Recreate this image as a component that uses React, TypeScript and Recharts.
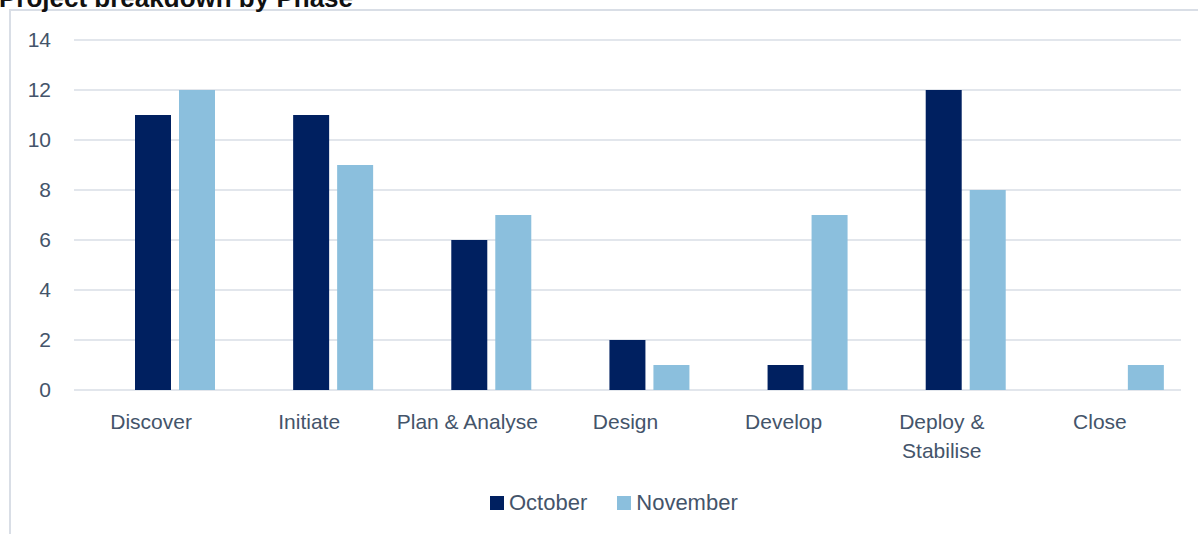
import { Bar, BarChart, CartesianGrid, XAxis, YAxis } from "recharts";

const phases = [
  "Discover",
  "Initiate",
  "Plan & Analyse",
  "Design",
  "Develop",
  "Deploy & Stabilise",
  "Close",
];
const october = [11, 11, 6, 2, 1, 12, 0];
const november = [12, 9, 7, 1, 7, 8, 1];
const yTicks = [0, 2, 4, 6, 8, 10, 12, 14];

const series = [
  { key: "october", name: "October", color: "#002060" },
  { key: "november", name: "November", color: "#8BBFDD" },
];

const rows = phases.map((phase, i) => ({
  phase,
  october: october[i],
  november: november[i],
}));

const FONT = "'Liberation Sans', Arial, sans-serif";
const TEXT = "#44546A";
const GRID = "#D9DEE6";

// greedy word wrap, same as Excel gives for these labels
function wrapLabel(label: string, maxChars = 14) {
  const lines: string[] = [];
  let cur = "";
  for (const w of label.split(" ")) {
    const next = cur ? cur + " " + w : w;
    if (next.length > maxChars && cur) {
      lines.push(cur);
      cur = w;
    } else {
      cur = next;
    }
  }
  if (cur) lines.push(cur);
  return lines;
}

function PhaseTick(props: any) {
  const { x, y, payload } = props;
  const lines = wrapLabel(String(payload.value));
  return (
    <text
      x={x - 24}
      y={y + 15}
      textAnchor="middle"
      fill={TEXT}
      fontSize={21}
      fontFamily={FONT}
    >
      {lines.map((line, i) => (
        <tspan key={i} x={x - 24} dy={i === 0 ? 0 : 29}>
          {line}
        </tspan>
      ))}
    </text>
  );
}

export default function App() {
  return (
    <div
      style={{
        position: "absolute",
        left: 0,
        top: 0,
        width: 1198,
        height: 534,
        overflow: "hidden",
        background: "#fff",
        fontFamily: FONT,
      }}
    >
      <div
        style={{
          position: "absolute",
          left: 9,
          top: 9,
          width: 1250,
          height: 600,
          borderTop: `2px solid ${GRID}`,
          borderLeft: `2px solid ${GRID}`,
        }}
      />
      <svg
        width={1198}
        height={20}
        style={{ position: "absolute", left: 0, top: 0 }}
      >
        <text x={-1} y={7} fontSize={26} fontWeight="bold" fill="#111" fontFamily={FONT}>
          Project breakdown by Phase
        </text>
      </svg>
      <div style={{ position: "absolute", left: 0, top: 0 }}>
        <BarChart
          width={1198}
          height={534}
          data={rows}
          margin={{ top: 40, right: 17, left: 0, bottom: 84 }}
          barSize={36}
          barGap={8}
        >
          <CartesianGrid vertical={false} stroke={GRID} strokeWidth={1.5} />
          <XAxis
            dataKey="phase"
            axisLine={false}
            tickLine={false}
            tickSize={0}
            tickMargin={24}
            height={60}
            interval={0}
            padding={{ left: 22, right: -22 }}
            tick={<PhaseTick />}
          />
          <YAxis
            width={74}
            domain={[0, 14]}
            ticks={yTicks}
            axisLine={false}
            tickLine={false}
            tickSize={0}
            tickMargin={23}
            tick={{ fill: TEXT, fontSize: 21, fontFamily: FONT }}
          />
          {series.map((s) => (
            <Bar
              key={s.key}
              dataKey={s.key}
              name={s.name}
              fill={s.color}
              isAnimationActive={false}
            />
          ))}
        </BarChart>
      </div>
      <div
        style={{
          position: "absolute",
          left: 490,
          top: 491,
          display: "flex",
          alignItems: "center",
          fontSize: 22,
          color: TEXT,
          lineHeight: "24px",
        }}
      >
        {series.map((s, i) => (
          <div
            key={s.key}
            style={{ display: "flex", alignItems: "center", marginLeft: i ? 30 : 0 }}
          >
            <span
              style={{ width: 14, height: 14, background: s.color, marginRight: 5 }}
            />
            <span>{s.name}</span>
          </div>
        ))}
      </div>
    </div>
  );
}
